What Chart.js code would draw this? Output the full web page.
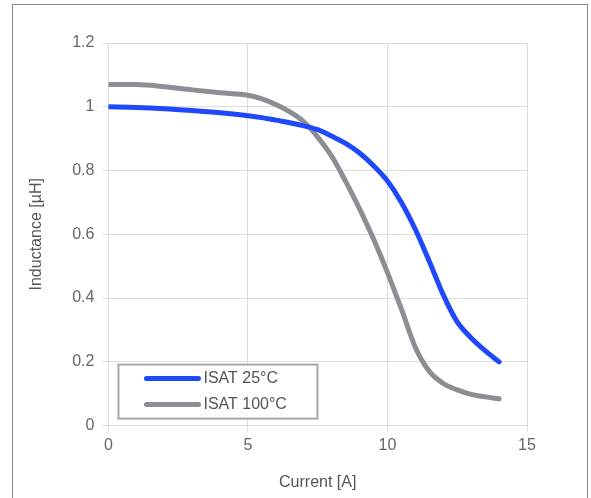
<!DOCTYPE html>
<html>
<head>
<meta charset="utf-8">
<script src="https://cdn.jsdelivr.net/npm/chart.js@4.4.0/dist/chart.umd.min.js"></script>
<style>
  html, body { margin: 0; padding: 0; background: #fff; }
  #wrap { position: relative; width: 591px; height: 498px; overflow: hidden; }
  #frame {
    position: absolute; left: 12px; top: 4px; width: 574px; height: 520px;
    border: 1px solid #888; pointer-events: none;
  }
  canvas { position: absolute; left: 0; top: 0; }
</style>
</head>
<body>
<div id="wrap">
  <canvas id="chart" width="591" height="498"></canvas>
  <div id="frame"></div>
</div>
<script>
// Data
const currentA = [0, 1, 2, 3, 4, 5, 5.5, 6, 6.5, 7, 7.5, 8, 8.5, 9, 9.5, 10, 10.5, 11, 11.5, 12, 12.5, 13, 13.5, 14];
const isat25 = [1.0, 0.998, 0.994, 0.988, 0.981, 0.972, 0.966, 0.958, 0.95, 0.94, 0.928, 0.908, 0.885, 0.855, 0.815, 0.767, 0.7, 0.615, 0.515, 0.41, 0.325, 0.275, 0.235, 0.2];
const isat100 = [1.07, 1.07, 1.063, 1.053, 1.044, 1.036, 1.025, 1.007, 0.984, 0.953, 0.905, 0.845, 0.766, 0.68, 0.585, 0.48, 0.365, 0.245, 0.17, 0.132, 0.112, 0.098, 0.09, 0.084];
const seriesLabels = ['ISAT 25°C', 'ISAT 100°C'];
const seriesColors = ['#1f48fb', '#8b8e92'];
const xTicks = [0, 5, 10, 15];
const yTicks = [0, 0.2, 0.4, 0.6, 0.8, 1, 1.2];

const FONT = 'Arial, "Liberation Sans", sans-serif';

function toPoints(xs, ys) {
  return xs.map((x, i) => ({ x: x, y: ys[i] }));
}

// legend box drawn inside the plot, bottom-left
const boxLegend = {
  id: 'boxLegend',
  afterDatasetsDraw(chart) {
    const ctx = chart.ctx;
    const area = chart.chartArea;
    const w = 199, h = 54;
    const left = area.left + 10;
    const top = area.bottom - 7 - h;
    ctx.save();
    ctx.fillStyle = '#fff';
    ctx.fillRect(left, top, w, h);
    ctx.strokeStyle = '#a8a8a8';
    ctx.lineWidth = 2;
    ctx.strokeRect(left, top, w, h);
    ctx.font = '16px ' + FONT;
    ctx.textBaseline = 'middle';
    chart.data.datasets.forEach((ds, i) => {
      const y = top + 14 + i * 26;
      ctx.strokeStyle = ds.borderColor;
      ctx.lineWidth = 5;
      ctx.lineCap = 'round';
      ctx.beginPath();
      ctx.moveTo(left + 28, y);
      ctx.lineTo(left + 80, y);
      ctx.stroke();
      ctx.fillStyle = '#555';
      ctx.fillText(ds.label, left + 85, y);
    });
    ctx.restore();
  }
};

new Chart(document.getElementById('chart').getContext('2d'), {
  type: 'scatter',
  data: {
    datasets: [
      { label: seriesLabels[0], data: toPoints(currentA, isat25), borderColor: seriesColors[0] },
      { label: seriesLabels[1], data: toPoints(currentA, isat100), borderColor: seriesColors[1] }
    ].map(ds => Object.assign(ds, {
      showLine: true,
      pointRadius: 0,
      borderWidth: 5,
      borderCapStyle: 'round',
      cubicInterpolationMode: 'monotone',
      backgroundColor: ds.borderColor
    }))
  },
  options: {
    responsive: false,
    animation: false,
    layout: { padding: { left: 27, top: 43, right: 64, bottom: 6 } },
    plugins: {
      legend: { display: false },
      tooltip: { enabled: false }
    },
    scales: {
      x: {
        type: 'linear',
        min: xTicks[0],
        max: xTicks[xTicks.length - 1],
        afterBuildTicks: (axis) => { axis.ticks = xTicks.map(v => ({ value: v })); },
        grid: { color: '#dcdcdc', tickLength: 6, lineWidth: 1 },
        border: { color: '#dcdcdc' },
        ticks: { color: '#666', font: { family: FONT, size: 16 }, padding: 4, callback: (v) => String(v) },
        title: { display: true, text: 'Current [A]', color: '#555', font: { family: FONT, size: 16 }, padding: { top: 14, bottom: 0 } }
      },
      y: {
        min: yTicks[0],
        max: yTicks[yTicks.length - 1],
        afterBuildTicks: (axis) => { axis.ticks = yTicks.map(v => ({ value: v })); },
        grid: { color: '#dcdcdc', tickLength: 6, lineWidth: 1 },
        border: { color: '#dcdcdc' },
        ticks: { color: '#666', font: { family: FONT, size: 16 }, padding: 8, callback: (v) => String(v) },
        title: { display: true, text: 'Inductance [µH]', color: '#555', font: { family: FONT, size: 16 }, padding: { top: 0, bottom: 18 } }
      }
    }
  },
  plugins: [boxLegend]
});
</script>
</body>
</html>
